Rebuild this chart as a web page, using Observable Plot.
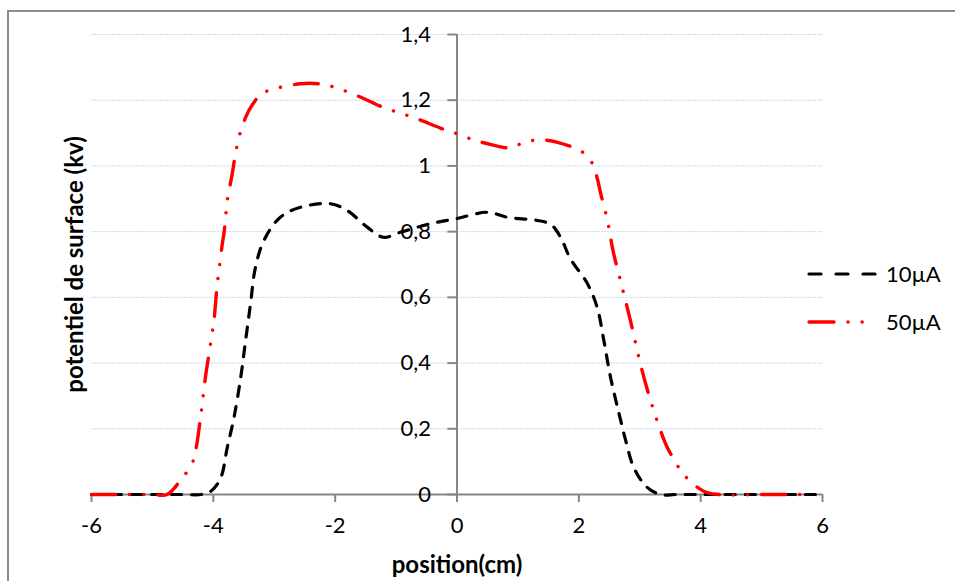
<!DOCTYPE html>
<html>
<head>
<meta charset="utf-8">
<script src="https://cdn.jsdelivr.net/npm/d3@7"></script>
<script src="https://cdn.jsdelivr.net/npm/@observablehq/plot@0.6"></script>
<style>
  html, body { margin: 0; padding: 0; background: white; }
  #wrap { position: relative; width: 955px; height: 581px; overflow: hidden; font-family: Lato, sans-serif; }
  #border { position: absolute; left: 7px; top: 10px; width: 1000px; height: 700px; border-top: 2px solid #8c8c8c; border-left: 2px solid #8c8c8c; }
  #chart { position: absolute; left: 0; top: 0; }
  #legend { position: absolute; left: 0; top: 0; }
</style>
</head>
<body>
<div id="wrap">
  <div id="border"></div>
  <div id="chart"></div>
  <svg id="legend" width="955" height="581"></svg>
</div>
<script>
const seriesNames = ["10µA", "50µA"];
const xTitle = "position(cm)";
const yTitle = "potentiel de surface (kv)";

const x10 = [-6,-5,-4.5,-4.2,-4.04,-3.88,-3.77,-3.66,-3.55,-3.47,-3.39,-3.31,-3.17,-2.9,-2.57,-2.08,-1.8,-1.47,-1.21,-0.93,-0.44,0,0.5,0.82,1.32,1.54,1.7,1.86,2.14,2.3,2.41,2.52,2.66,2.77,2.9,3.12,3.34,3.6,4,5,6];
const y10 = [0,0,0,0,0.01,0.05,0.144,0.235,0.357,0.469,0.58,0.69,0.773,0.844,0.874,0.885,0.864,0.813,0.783,0.798,0.824,0.84,0.859,0.844,0.834,0.822,0.783,0.718,0.642,0.57,0.469,0.357,0.246,0.164,0.083,0.022,0,0,0,0,0];

const x50 = [-6,-5.5,-5,-4.76,-4.54,-4.35,-4.29,-4.21,-4.13,-4.08,-3.99,-3.94,-3.86,-3.82,-3.77,-3.69,-3.65,-3.58,-3.47,-3.36,-3.22,-3.05,-2.57,-2.27,-2.02,-1.64,-1.37,-1.15,-0.9,-0.65,-0.24,0,0.23,0.47,0.82,0.91,1.14,1.4,1.65,2.06,2.22,2.3,2.36,2.47,2.56,2.71,2.85,3.01,3.14,3.34,3.45,3.58,3.72,4.05,4.3,5,5.8];
const y50 = [0,0,0,0,0.043,0.094,0.134,0.235,0.357,0.418,0.53,0.631,0.753,0.803,0.895,0.976,1.022,1.087,1.148,1.186,1.218,1.232,1.25,1.25,1.24,1.214,1.191,1.174,1.159,1.143,1.113,1.098,1.082,1.069,1.055,1.057,1.074,1.079,1.072,1.042,1.008,0.964,0.915,0.834,0.743,0.631,0.527,0.398,0.309,0.195,0.144,0.101,0.061,0.01,0,0,0];

const xTicks = [-6,-4,-2,0,2,4,6];
const xTickLabels = ["-6","-4","-2","0","2","4","6"];
const yTicks = [0,0.2,0.4,0.6,0.8,1,1.2,1.4];
const yTickLabels = ["0","0,2","0,4","0,6","0,8","1","1,2","1,4"];

const d10 = x10.map((x, i) => ({x, y: y10[i]}));
const d50 = x50.map((x, i) => ({x, y: y50[i]}));
const yTickData = yTicks.map((v, i) => ({v, label: yTickLabels[i]}));

const axisGray = "#868686";

const plot = Plot.plot({
  width: 955,
  height: 581,
  marginLeft: 91,
  marginRight: 133,
  marginTop: 34,
  marginBottom: 87,
  style: {fontFamily: "Lato, sans-serif", fontSize: "22px", color: "black", background: "transparent", overflow: "visible"},
  x: {domain: [-6, 6]},
  y: {domain: [0, 1.4], axis: null},
  marks: [
    Plot.gridY(yTicks.slice(1), {stroke: "#c6d9f1", strokeOpacity: 1, strokeWidth: 1, strokeDasharray: "2,1"}),
    Plot.ruleY([0], {stroke: axisGray, strokeWidth: 2}),
    Plot.ruleX([0], {y1: 0, y2: 1.4, stroke: axisGray, strokeWidth: 2}),
    Plot.ruleY(yTickData, {y: "v", x1: -0.15, x2: 0, stroke: axisGray, strokeWidth: 2}),
    Plot.axisX({ticks: xTicks, tickSize: 8, tickPadding: 15, stroke: axisGray, strokeWidth: 2, strokeOpacity: 1,
      tickFormat: (d) => xTickLabels[xTicks.indexOf(d)], label: null, fontSize: 22}),
    Plot.text(yTickData, {x: 0, y: "v", text: "label", dx: -26, textAnchor: "end", fontSize: 22, fill: "black"}),
    Plot.line(d10, {x: "x", y: "y", stroke: "black", strokeWidth: 3.2, strokeDasharray: "10,10", strokeLinecap: "round", curve: "catmull-rom"}),
    Plot.line(d50, {x: "x", y: "y", stroke: "#ff0000", strokeWidth: 3.4, strokeDasharray: "24,14,0.1,14,0.1,14", strokeLinecap: "round", curve: "catmull-rom"}),
    Plot.text([xTitle], {frameAnchor: "bottom", dy: 78, text: (d) => d, fontWeight: "bold", fontSize: 24, fill: "black"}),
    Plot.text([yTitle], {frameAnchor: "left", textAnchor: "middle", dx: -16, rotate: -90, text: (d) => d, fontWeight: "bold", fontSize: 24, fill: "black"})
  ]
});
document.getElementById("chart").appendChild(plot);

// legend
const leg = d3.select("#legend");
const legStyles = [
  {stroke: "black", width: 3.2, dash: "12,15"},
  {stroke: "#ff0000", width: 3.4, dash: "25,14,0.1,14,0.1,14"}
];
seriesNames.forEach((name, i) => {
  const yy = 274 + i * 48;
  leg.append("line").attr("x1", 809).attr("x2", 876).attr("y1", yy).attr("y2", yy)
    .attr("stroke", legStyles[i].stroke).attr("stroke-width", legStyles[i].width)
    .attr("stroke-dasharray", legStyles[i].dash).attr("stroke-linecap", "round");
  leg.append("text").attr("x", 886).attr("y", yy).attr("dy", "0.35em")
    .attr("font-family", "Lato, sans-serif").attr("font-size", 22).attr("fill", "black").text(name);
});
</script>
</body>
</html>
